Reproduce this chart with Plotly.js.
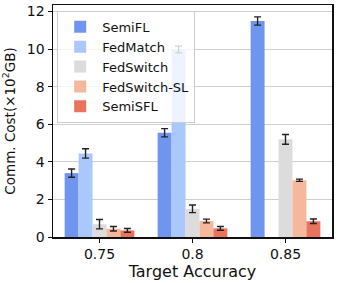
<!DOCTYPE html>
<html><head><meta charset="utf-8">
<script src="https://cdn.plot.ly/plotly-3.0.1.min.js"></script>
<style>body{margin:0;padding:0;}#chart{width:338px;height:283px;}</style>
</head><body><div id="chart"></div>
<script>
const categories = ['0.75', '0.8', '0.85'];
const seriesNames = ['SemiFL', 'FedMatch', 'FedSwitch', 'FedSwitch-SL', 'SemiSFL'];
const semiFL = [3.4, 5.55, 11.5];
const semiFLErr = [0.22, 0.22, 0.22];
const fedMatch = [4.45, 9.98, null];
const fedMatchErr = [0.25, 0.18, 0];
const fedSwitch = [0.68, 1.5, 5.2];
const fedSwitchErr = [0.25, 0.2, 0.26];
const fedSwitchSL = [0.44, 0.85, 3.02];
const fedSwitchSLErr = [0.12, 0.1, 0.06];
const semiSFL = [0.35, 0.46, 0.84];
const semiSFLErr = [0.1, 0.1, 0.12];
const colors = ['#7095ef', '#aac8fc', '#dcdcdc', '#f6b89c', '#e9735d'];
const values = [semiFL, fedMatch, fedSwitch, fedSwitchSL, semiSFL];
const errs = [semiFLErr, fedMatchErr, fedSwitchErr, fedSwitchSLErr, semiSFLErr];
const yTicks = [0, 2, 4, 6, 8, 10, 12];

const traces = seriesNames.map((n, i) => ({
  type: 'bar', name: n, x: categories, y: values[i],
  marker: {color: colors[i], line: {width: 0}},
  error_y: {type: 'data', array: errs[i], visible: true, color: '#222', thickness: 1.4, width: 3.5}
}));

const layout = {
  width: 338, height: 283,
  margin: {l: 53, r: 6, t: 5, b: 46},
  font: {family: 'DejaVu Sans', color: '#111'},
  paper_bgcolor: 'white', plot_bgcolor: 'white',
  barmode: 'group', bargap: 0.25, bargroupgap: 0,
  showlegend: true,
  legend: {x: 0.015, y: 0.975, xanchor: 'left', yanchor: 'top',
    bgcolor: 'rgba(255,255,255,0.8)', bordercolor: '#cccccc', borderwidth: 1,
    font: {size: 13, family: 'DejaVu Sans'}, tracegroupgap: 0, itemwidth: 34},
  xaxis: {type: 'category', showline: true, mirror: true, linecolor: '#111', linewidth: 1.5,
    ticks: 'outside', ticklen: 4, tickcolor: '#111', tickfont: {size: 14},
    title: {text: 'Target Accuracy', font: {size: 16}, standoff: 0}, showgrid: false},
  yaxis: {range: [0, 12.35], tickvals: yTicks, showline: true, mirror: true, linecolor: '#111', linewidth: 1.5,
    ticks: 'outside', ticklen: 4, tickcolor: '#111', tickfont: {size: 14},
    gridcolor: '#d0d0d0', gridwidth: 1, zeroline: false,
    title: {text: 'Comm. Cost(×10<sup>2</sup>GB)', font: {size: 13.5}, standoff: 8}}
};
Plotly.newPlot('chart', traces, layout, {displayModeBar: false, staticPlot: true});
</script></body></html>
